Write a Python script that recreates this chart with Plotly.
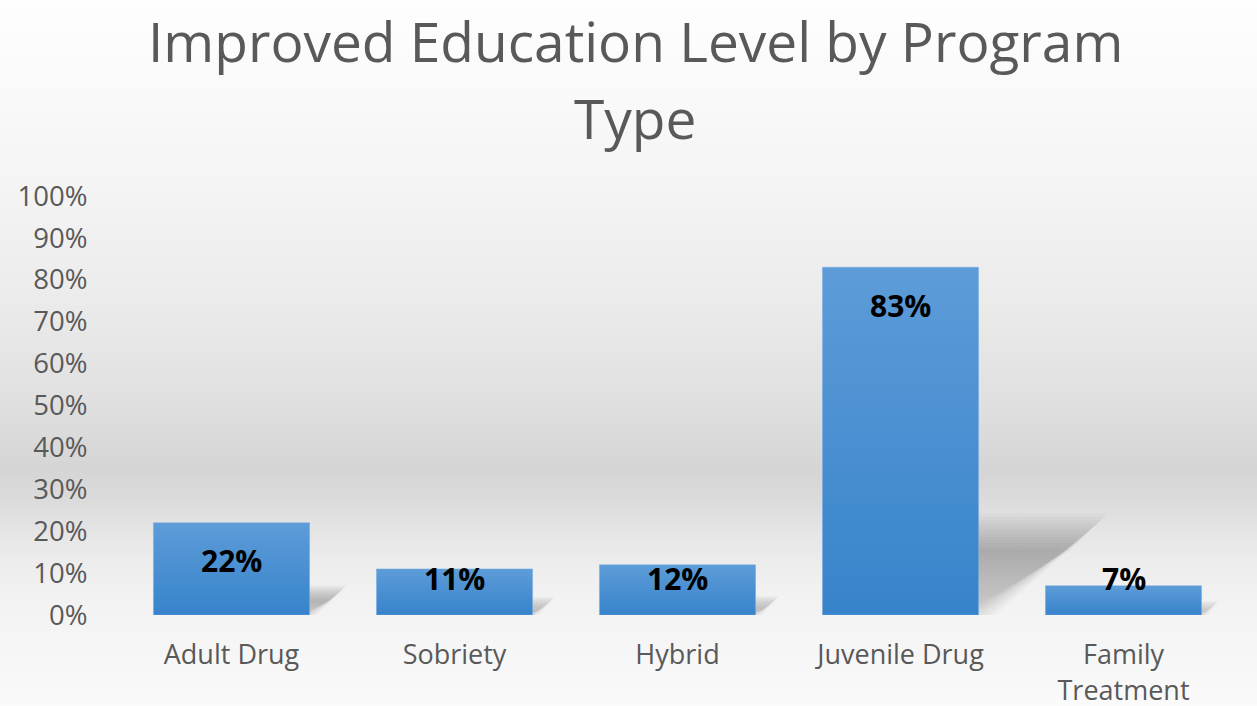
import plotly.graph_objects as go

# ---- data -------------------------------------------------------------
categories = ["Adult Drug", "Sobriety", "Hybrid", "Juvenile Drug", "Family<br>Treatment"]
values = [0.22, 0.11, 0.12, 0.83, 0.07]
value_labels = ["22%", "11%", "12%", "83%", "7%"]
y_tick_values = [0.0, 0.1, 0.2, 0.3, 0.4, 0.5, 0.6, 0.7, 0.8, 0.9, 1.0]
title_lines = ["Improved Education Level by Program", "Type"]

# background shading: (pixel row from top, grey level)
bg_rows = [0, 100, 200, 300, 400, 470, 500, 540, 580, 620, 706]
bg_levels = [254, 249, 243, 235, 224, 213, 219, 232, 240, 244, 250]

# ---- layout geometry --------------------------------------------------
W, H = 1257, 706
PL, PR, PT, PB = 120, 1235, 196, 615          # plot area in pixels
PX_PER_UNIT = PB - PT                          # pixels for 100 %
PX_PER_CAT = (PR - PL) / len(categories)
BAR_W = 0.70
TEXT_GREY = "#595959"
FONT = "Open Sans"

fig = go.Figure()

# soft vertical background gradient covering the whole canvas
fig.add_trace(go.Heatmap(
    x=[0, 1], y=bg_rows, z=[[g, g] for g in bg_levels],
    colorscale=[[0, "rgb(0,0,0)"], [1, "rgb(255,255,255)"]],
    zmin=0, zmax=255, zsmooth="best", showscale=False, hoverinfo="skip",
    xaxis="x", yaxis="y",
))

# perspective drop shadows behind each bar, softened by stacking
# faint, slightly grown / shrunk copies of the same skewed outline
n_layers = 12
for i, v in enumerate(values):
    h_px = v * PX_PER_UNIT
    dx = 0.32 * h_px / PX_PER_CAT          # horizontal skew in category units
    dy = 0.24 * v                          # shadow height in data units
    blur = max(14.0, 0.08 * h_px + 8.0)    # softness in pixels
    xl, xr = i - BAR_W / 2, i + BAR_W / 2
    for k in range(n_layers):
        t = (k / (n_layers - 1) - 0.5) * blur
        ex = t / PX_PER_CAT
        ey = t / PX_PER_UNIT
        xs = [xl, xr + ex, xr + dx + ex, xl + dx, xl]
        ys = [0, 0, dy + ey, dy + ey, 0]
        fig.add_trace(go.Scatter(
            x=xs, y=ys, mode="lines", line=dict(width=0), fill="toself",
            fillgradient=dict(type="vertical",
                              colorscale=[[0, "rgba(0,0,0,0.015)"],
                                          [1, "rgba(0,0,0,0.03)"]]),
            hoverinfo="skip", showlegend=False, xaxis="x2", yaxis="y2",
        ))

# bars with a light-to-dark blue vertical gradient
for i, v in enumerate(values):
    xl, xr = i - BAR_W / 2, i + BAR_W / 2
    fig.add_trace(go.Scatter(
        x=[xl, xr, xr, xl, xl], y=[0, 0, v, v, 0],
        mode="lines", line=dict(width=0.6, color="rgba(120,170,225,0.8)"),
        fill="toself",
        fillgradient=dict(type="vertical",
                          colorscale=[[0, "#3783cb"], [1, "#5d9cd8"]]),
        name=categories[i].replace("<br>", " "),
        hovertemplate="%{fullData.name}: " + value_labels[i] + "<extra></extra>",
        showlegend=False, xaxis="x2", yaxis="y2",
    ))

# value labels inside the top of each bar (kept clear of the baseline)
top_pad = 38 / PX_PER_UNIT
base_pad = 37 / PX_PER_UNIT
for i, (v, lab) in enumerate(zip(values, value_labels)):
    fig.add_annotation(
        x=i, y=max(v - top_pad, base_pad), xref="x2", yref="y2",
        text=f"<b>{lab}</b>", showarrow=False, yanchor="middle",
        font=dict(family=FONT, size=30, color="#000000"),
    )

# two-line title
title_y = [40, 118]
for line, yp in zip(title_lines, title_y):
    fig.add_annotation(
        x=635 / W, y=1 - yp / H, xref="paper", yref="paper",
        text=line, showarrow=False, xanchor="center", yanchor="middle",
        font=dict(family=FONT, size=55, color=TEXT_GREY),
    )

fig.update_layout(
    template="none",
    width=W, height=H,
    margin=dict(l=0, r=0, t=0, b=0, pad=0),
    paper_bgcolor="#ffffff",
    plot_bgcolor="rgba(0,0,0,0)",
    showlegend=False,
    xaxis=dict(domain=[0, 1], range=[0, 1], visible=False, fixedrange=True,
               automargin=False),
    yaxis=dict(domain=[0, 1], range=[H, 0], visible=False, fixedrange=True,
               automargin=False),
    xaxis2=dict(
        domain=[PL / W, PR / W], anchor="y2", range=[-0.5, len(categories) - 0.5],
        tickmode="array", tickvals=list(range(len(categories))), ticktext=categories,
        showgrid=False, zeroline=False, showline=False, automargin=False,
        ticks="outside", ticklen=16, tickcolor="rgba(0,0,0,0)",
        tickfont=dict(family=FONT, size=27, color=TEXT_GREY),
        fixedrange=True,
    ),
    yaxis2=dict(
        domain=[1 - PB / H, 1 - PT / H], anchor="x2", range=[0, 1],
        tickmode="array", tickvals=y_tick_values, tickformat=".0%",
        showgrid=False, zeroline=False, showline=False, automargin=False,
        ticks="outside", ticklen=26, tickcolor="rgba(0,0,0,0)",
        tickfont=dict(family=FONT, size=27.5, color=TEXT_GREY),
        fixedrange=True,
    ),
)

fig.write_html("out.html")
